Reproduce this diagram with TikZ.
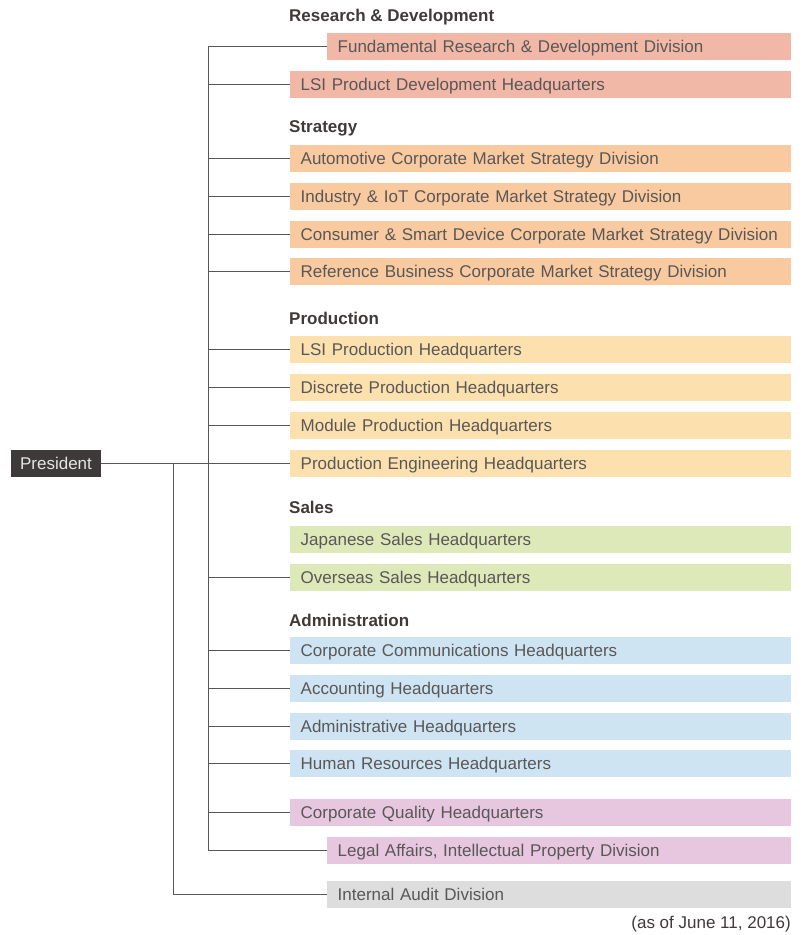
\documentclass[tikz,border=0pt]{standalone}
\usepackage{fontspec}
\setmainfont{Liberation Sans}
\definecolor{rdcol}{HTML}{F2B8A7}
\definecolor{stcol}{HTML}{F9CA9F}
\definecolor{prcol}{HTML}{FCE1AF}
\definecolor{sacol}{HTML}{DEE9B9}
\definecolor{adcol}{HTML}{CFE4F3}
\definecolor{qucol}{HTML}{E7C7E0}
\definecolor{aucol}{HTML}{DCDDDC}
\definecolor{headcol}{HTML}{3E3A39}
\definecolor{linecol}{HTML}{595757}
\definecolor{txtcol}{HTML}{595757}
\begin{document}
\begin{tikzpicture}[x=1pt,y=-1pt,
  every node/.style={font=\fontsize{17}{20}\selectfont},
  unit/.style={anchor=west, minimum height=27pt, inner xsep=5.5pt, inner ysep=0pt,
    text height=15pt, text depth=2.8pt, align=left, text=txtcol,
    execute at begin node={\hspace*{5pt}}},
  longbox/.style={unit, fill=#1, text width=490pt},
  shortbox/.style={unit, fill=#1, text width=453pt},
  group/.style={anchor=base west, inner sep=0pt, text=headcol, font=\fontsize{17}{20}\selectfont\bfseries},
  link/.style={draw=linecol, line width=1pt}]
\useasboundingbox (0,0) rectangle (803,935);

% top of the chart
\node[fill=headcol, text=white!90!black, minimum width=90pt, minimum height=27pt, inner sep=0pt,
  text height=15pt, text depth=2.8pt]
  (pres) at (56,463) {President};

% Research & Development
\node[group] (hrd) at (289,21.2) {Research \& Development};
\node[shortbox=rdcol] (fund) at (327,46) {Fundamental Research \& Development Division};
\node[longbox=rdcol] (lsipd) at (290,84) {LSI Product Development Headquarters};

% Strategy
\node[group] (hst) at (289,132.2) {Strategy};
\node[longbox=stcol] (auto) at (290,158) {Automotive Corporate Market Strategy Division};
\node[longbox=stcol] (iot) at (290,196) {Industry \& IoT Corporate Market Strategy Division};
\node[longbox=stcol] (cons) at (290,234) {Consumer \& Smart Device Corporate Market Strategy Division};
\node[longbox=stcol] (refb) at (290,271) {Reference Business Corporate Market Strategy Division};

% Production
\node[group] (hpr) at (289,324.2) {Production};
\node[longbox=prcol] (lsiprod) at (290,349) {LSI Production Headquarters};
\node[longbox=prcol] (disc) at (290,387) {Discrete Production Headquarters};
\node[longbox=prcol] (modu) at (290,425) {Module Production Headquarters};
\node[longbox=prcol] (proe) at (290,463) {Production Engineering Headquarters};

% Sales
\node[group] (hsa) at (289,513.2) {Sales};
\node[longbox=sacol] (jpn) at (290,539) {Japanese Sales Headquarters};
\node[longbox=sacol] (ovs) at (290,577) {Overseas Sales Headquarters};

% Administration
\node[group] (had) at (289,626.2) {Administration};
\node[longbox=adcol] (comm) at (290,650) {Corporate Communications Headquarters};
\node[longbox=adcol] (acct) at (290,688) {Accounting Headquarters};
\node[longbox=adcol] (admin) at (290,726) {Administrative Headquarters};
\node[longbox=adcol] (hr) at (290,763) {Human Resources Headquarters};

% Quality and legal
\node[longbox=qucol] (qual) at (290,812) {Corporate Quality Headquarters};
\node[shortbox=qucol] (legal) at (327,850) {Legal Affairs, Intellectual Property Division};

% Audit
\node[shortbox=aucol] (audit) at (327,894) {Internal Audit Division};

\node[anchor=base east, inner sep=0pt, text=headcol] (date) at (791,928.2) {(as of June 11, 2016)};

% connector trunks
\coordinate (trunk) at (208,0);
\coordinate (side) at (173,0);

\draw[link] (fund.west -| trunk) -- (legal.west -| trunk);
\foreach \n in {fund,lsipd,auto,iot,cons,refb,lsiprod,disc,modu,ovs,comm,acct,admin,hr,qual,legal}
  \draw[link] (\n.west -| trunk) -- (\n.west);
\draw[link] (pres.east) -- (proe.west);
\draw[link] (pres.east -| side) |- (audit.west);
\end{tikzpicture}
\end{document}
